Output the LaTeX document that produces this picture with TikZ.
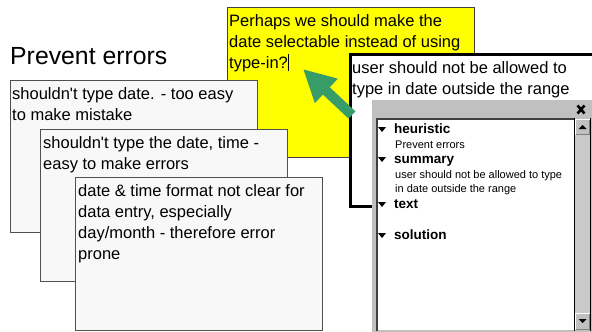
\documentclass[tikz,border=0pt]{standalone}
\usepackage{fontspec}
\setmainfont{Liberation Sans}
\usetikzlibrary{arrows.meta}
\definecolor{cardfill}{HTML}{F8F8F8}
\definecolor{cardline}{HTML}{505050}
\definecolor{noteyellow}{HTML}{FFFF00}
\definecolor{arrowgreen}{HTML}{389C68}
\definecolor{wingray}{HTML}{C0C0C0}
\definecolor{windark}{HTML}{404040}
\begin{document}
\begin{tikzpicture}[x=1pt,y=-1pt,
  card/.style={draw=cardline, fill=cardfill, line width=1pt},
  cardtext/.style={anchor=north west, inner sep=0pt, align=left, font=\fontsize{16.5}{21}\selectfont},
  paneltitle/.style={anchor=base west, inner sep=0pt, font=\bfseries\fontsize{13.5}{15}\selectfont},
  paneltext/.style={anchor=base west, inner sep=0pt, font=\fontsize{11}{14}\selectfont},
  tri/.style={fill=black}
]
\clip (0,0) rectangle (592,332);
\fill[white] (0,0) rectangle (592,332);

% title
\node[anchor=base west, inner sep=0pt, font=\fontsize{24.8}{28}\selectfont] (title) at (10,64) {Prevent errors};

% yellow note
\draw[fill=noteyellow, draw=windark, line width=1pt] (227,7) rectangle (474,157);
\node[cardtext] (note) at (229,14) {Perhaps we should make the\\date selectable instead of using\\type-in?\rule[-3pt]{1.3pt}{17pt}};

% user box
\draw[fill=white, draw=black, line width=3pt] (350,54) rectangle (620,206);
\node[cardtext] (user) at (352,61) {user should not be allowed to\\type in date outside the range};

% green arrow
\coordinate (atail) at (352,115);
\coordinate (atip) at (303,69);
\draw[arrowgreen, line width=10pt, -{Triangle[length=32pt,width=31pt]}] (atail) -- (atip);

% cards
\draw[card] (10,80) rectangle (257,232);
\node[cardtext] (c1) at (12,87) {shouldn\textquotesingle t type date. - too easy\\to make mistake};
\draw[card] (40,129) rectangle (287,281);
\node[cardtext] (c2) at (43,136) {shouldn\textquotesingle t type the date, time -\\easy to make errors};
\draw[card] (75,177) rectangle (322,330);
\node[cardtext] (c3) at (78,184) {date \& time format not clear for\\data entry, especially\\day/month - therefore error\\prone};

% panel
\fill[wingray] (372,100) rectangle (600,340);
\fill[white] (376,118) rectangle (574,330);
\draw[windark, line width=2pt] (377,331) -- (377,119) -- (574,119);
% close mark
\draw[black, line width=2.6pt] (577.5,105.5) -- (584.5,113.5) (584.5,105.5) -- (577.5,113.5);
% scrollbar
\fill[wingray!85!white] (574,135) rectangle (590,313);
\draw[black, line width=0.8pt] (574,118) -- (574,331);
\draw[black, line width=0.8pt] (590.5,118) -- (590.5,331);
% up button
\fill[wingray] (575,119) rectangle (590,135);
\draw[white, line width=1pt] (575.5,134.5) -- (575.5,119.5) -- (589.5,119.5);
\draw[gray, line width=1pt] (575.5,134.5) -- (589.5,134.5) -- (589.5,119.5);
\fill[black] (578.5,129) -- (586.5,129) -- (582.5,125) -- cycle;
% down button
\fill[wingray] (575,313) rectangle (590,330);
\draw[white, line width=1pt] (575.5,329.5) -- (575.5,313.5) -- (589.5,313.5);
\draw[gray, line width=1pt] (575.5,329.5) -- (589.5,329.5) -- (589.5,313.5);
\fill[black] (578.5,319) -- (586.5,319) -- (582.5,323) -- cycle;

% panel contents
\fill[tri] (378,127) -- (386,127) -- (382,132) -- cycle;
\node[paneltitle] (h1) at (394,133) {heuristic};
\node[paneltext] (h1t) at (395,148) {Prevent errors};
\fill[tri] (378,157) -- (386,157) -- (382,162) -- cycle;
\node[paneltitle] (h2) at (394,163) {summary};
\node[paneltext] (h2t) at (395,178) {user should not be allowed to type};
\node[paneltext] (h2u) at (395,192) {in date outside the range};
\fill[tri] (378,202) -- (386,202) -- (382,207) -- cycle;
\node[paneltitle] (h3) at (394,208) {text};
\fill[tri] (378,233) -- (386,233) -- (382,238) -- cycle;
\node[paneltitle] (h4) at (394,239) {solution};
\end{tikzpicture}
\end{document}
